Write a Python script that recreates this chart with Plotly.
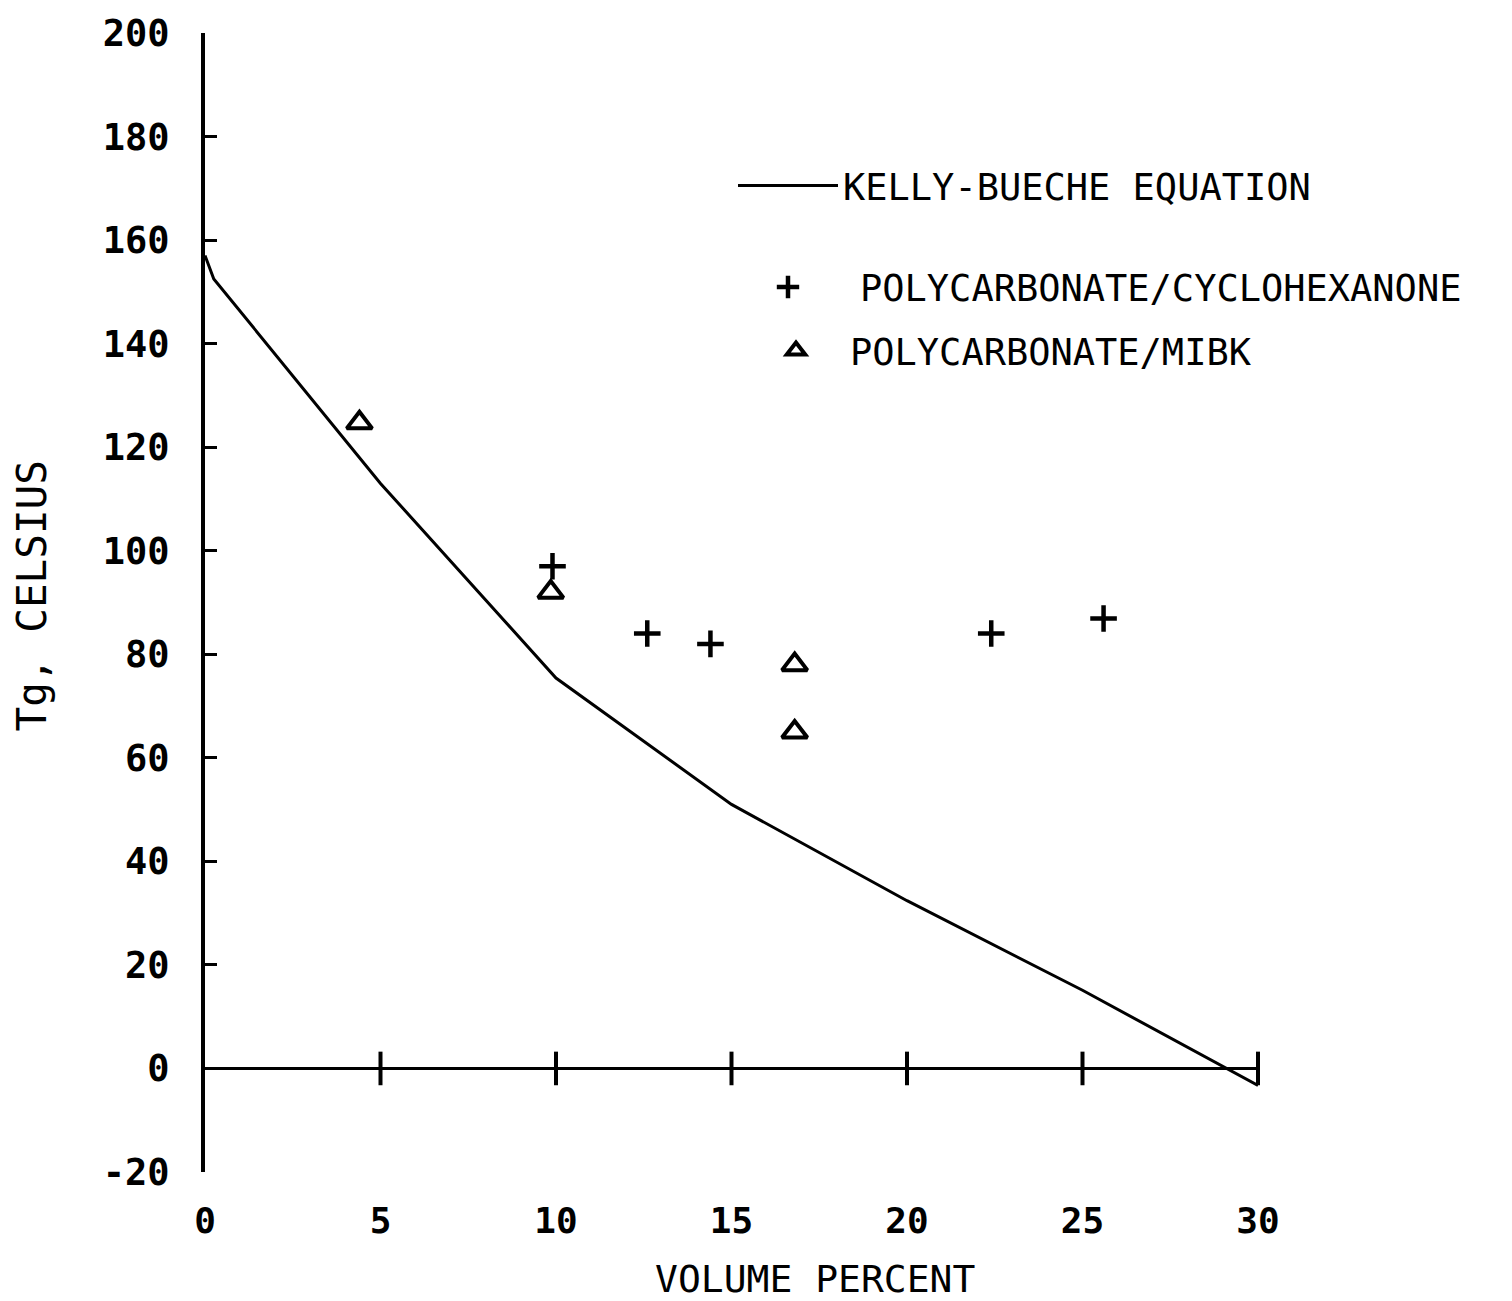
import plotly.graph_objects as go

# Kelly-Bueche prediction of Tg versus diluent volume percent
kb_volume = [0, 0.25, 5, 10, 15, 20, 25, 30]
kb_tg = [157, 152.5, 113, 75.4, 51, 32.4, 15.1, -3.3]

# Measured Tg, polycarbonate swollen in cyclohexanone
cyc_volume = [9.9, 12.6, 14.4, 22.4, 25.6]
cyc_tg = [97, 84, 82, 84, 86.9]

# Measured Tg, polycarbonate swollen in MIBK
mibk_volume = [4.4, 9.85, 16.8, 16.8]
mibk_tg = [124.7, 92, 78, 65]

x_ticks = [0, 5, 10, 15, 20, 25, 30]
y_ticks = [-20, 0, 20, 40, 60, 80, 100, 120, 140, 160, 180, 200]

FONT = "DejaVu Sans Mono"
INK = "black"

# plot-area geometry in pixels, used to place the legends and titles
L, R, T, B = 205, 1258, 26, 1172
PW, PH = R - L, B - T


def px_x(p):
    return (p - L) / PW


def px_y(p):
    return (B - p) / PH


fig = go.Figure()

fig.add_trace(go.Scatter(
    x=kb_volume, y=kb_tg, mode="lines",
    line=dict(color=INK, width=3),
    name="KELLY-BUECHE EQUATION", legend="legend",
    cliponaxis=False,
))

fig.add_trace(go.Scatter(
    x=cyc_volume, y=cyc_tg, mode="markers",
    marker=dict(symbol="cross-thin", size=19, color=INK,
                line=dict(color=INK, width=4.5)),
    name="POLYCARBONATE/CYCLOHEXANONE", legend="legend2",
))

fig.add_trace(go.Scatter(
    x=mibk_volume, y=mibk_tg, mode="markers",
    marker=dict(symbol="triangle-up-open", size=22, color=INK,
                line=dict(color=INK, width=4)),
    name="POLYCARBONATE/MIBK", legend="legend3",
))

# tick marks crossing the zero line of the volume axis
fig.add_trace(go.Scatter(
    x=x_ticks[1:], y=[0] * (len(x_ticks) - 1), mode="markers",
    marker=dict(symbol="line-ns", size=24, color=INK,
                line=dict(color=INK, width=4)),
    showlegend=False, hoverinfo="skip", cliponaxis=False,
))

legend_common = dict(
    yanchor="middle", xanchor="left",
    font=dict(family=FONT, size=37, color=INK),
    bgcolor="rgba(0,0,0,0)", borderwidth=0,
)

fig.update_layout(
    width=1512, height=1301,
    margin=dict(l=L, r=1512 - R, t=T, b=1301 - B),
    paper_bgcolor="white", plot_bgcolor="white",
    font=dict(family=FONT, color=INK),
    showlegend=True,
    legend=dict(x=px_x(733), y=px_y(180), itemwidth=100, **legend_common),
    legend2=dict(x=px_x(716), y=px_y(282), itemwidth=134, **legend_common),
    legend3=dict(x=px_x(742), y=px_y(346), itemwidth=98, **legend_common),
    xaxis=dict(
        range=[0, 30], tickvals=x_ticks,
        ticktext=[str(v) for v in x_ticks],
        showline=False, showgrid=False, zeroline=False, ticks="",
        tickfont=dict(family=FONT, size=36, color=INK, weight="bold"),
        ticklabelstandoff=24,
    ),
    yaxis=dict(
        range=[-20, 200], tickvals=y_ticks,
        ticktext=[str(v) for v in y_ticks],
        showline=True, linecolor=INK, linewidth=4,
        showgrid=False,
        zeroline=True, zerolinecolor=INK, zerolinewidth=3,
        ticks="inside", ticklen=12, tickwidth=3, tickcolor=INK,
        tickfont=dict(family=FONT, size=37, color=INK, weight="bold"),
        ticklabelstandoff=24,
    ),
    annotations=[
        dict(text="VOLUME PERCENT", xref="paper", yref="paper",
             x=px_x(815), y=px_y(1280),
             xanchor="center", yanchor="middle", showarrow=False,
             font=dict(family=FONT, size=38, color=INK)),
        dict(text="Tg, CELSIUS", xref="paper", yref="paper",
             x=px_x(32), y=px_y(592),
             xanchor="center", yanchor="middle", showarrow=False,
             textangle=-90,
             font=dict(family=FONT, size=41, color=INK)),
    ],
)

fig.write_html("out.html")
